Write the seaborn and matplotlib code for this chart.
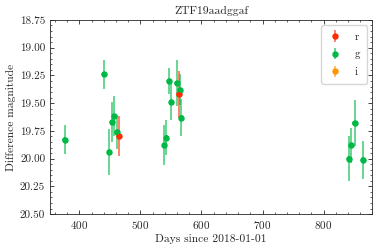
import numpy as np
import pandas as pd
import seaborn as sns
import matplotlib.pyplot as plt
from matplotlib.colors import to_rgba
from matplotlib.ticker import MultipleLocator

# light curve values
days_r = [465.0, 563.0]
mag_r = [19.80, 19.42]
err_r = [0.18, 0.21]

days_g = [376.0, 440.5, 449.0, 453.6, 457.0, 461.3, 539.3, 542.6, 547.0,
          550.8, 559.7, 564.6, 567.2, 841.6, 844.9, 850.8, 864.6]
mag_g = [19.83, 19.24, 19.94, 19.67, 19.62, 19.76, 19.88, 19.81, 19.30,
         19.49, 19.32, 19.38, 19.63, 20.00, 19.88, 19.68, 20.01]
err_g = [0.13, 0.13, 0.21, 0.18, 0.18, 0.15, 0.18, 0.16, 0.115,
         0.16, 0.21, 0.14, 0.17, 0.20, 0.16, 0.21, 0.17]

days_i = []
mag_i = []
err_i = []

bands = ["r", "g", "i"]
colors = {"r": "#FF2C00", "g": "#00B945", "i": "#FF9500"}

data = pd.DataFrame({
    "days": days_r + days_g + days_i,
    "mag": mag_r + mag_g + mag_i,
    "err": err_r + err_g + err_i,
    "band": ["r"] * len(days_r) + ["g"] * len(days_g) + ["i"] * len(days_i),
})

sns.set_theme(style="ticks", rc={
    "xtick.direction": "in", "ytick.direction": "in",
    "xtick.top": True, "ytick.right": True,
    "xtick.minor.visible": True, "ytick.minor.visible": True,
    "xtick.major.size": 3, "ytick.major.size": 3,
    "xtick.minor.size": 1.5, "ytick.minor.size": 1.5,
    "axes.linewidth": 0.6, "xtick.major.width": 0.6, "ytick.major.width": 0.6,
    "xtick.minor.width": 0.5, "ytick.minor.width": 0.5,
})
plt.rcParams["font.family"] = ["cmr10", "DejaVu Serif"]
plt.rcParams["axes.formatter.use_mathtext"] = True
plt.rcParams["font.size"] = 8

fig, ax = plt.subplots(figsize=(3.82, 2.49), dpi=100)
fig.subplots_adjust(left=0.131, right=0.975, bottom=0.14, top=0.92)

for band in bands:
    sub = data[data["band"] == band]
    ax.errorbar(sub["days"], sub["mag"], yerr=sub["err"], fmt="o",
                color=colors[band], ms=3.6, elinewidth=1.1, capsize=0,
                ecolor=to_rgba(colors[band], 0.75), label=band, zorder=2)

sns.scatterplot(data=data, x="days", y="mag", hue="band", palette=colors,
                s=13, linewidth=0, legend=False, ax=ax, zorder=3)

ax.set_xlim(352, 880)
ax.set_ylim(20.5, 18.75)
ax.xaxis.set_major_locator(MultipleLocator(100))
ax.xaxis.set_minor_locator(MultipleLocator(20))
ax.yaxis.set_major_locator(MultipleLocator(0.25))
ax.yaxis.set_minor_locator(MultipleLocator(0.05))
ax.yaxis.set_major_formatter(plt.FuncFormatter(lambda v, p: "{:.2f}".format(v)))
ax.tick_params(labelsize=8)

ax.set_xlabel("Days since 2018-01-01", fontsize=8.3, labelpad=2)
ax.set_ylabel("Difference magnitude", fontsize=8.3, labelpad=3)
ax.set_title("ZTF19aadggaf", fontsize=8.4, pad=4)

leg = ax.legend(loc="upper right", fontsize=8, frameon=True, fancybox=True,
                handlelength=1.2, borderpad=0.6, labelspacing=0.7, handletextpad=1.2)
leg.get_frame().set_edgecolor("#cccccc")

fig.savefig("out.png", dpi=100)
